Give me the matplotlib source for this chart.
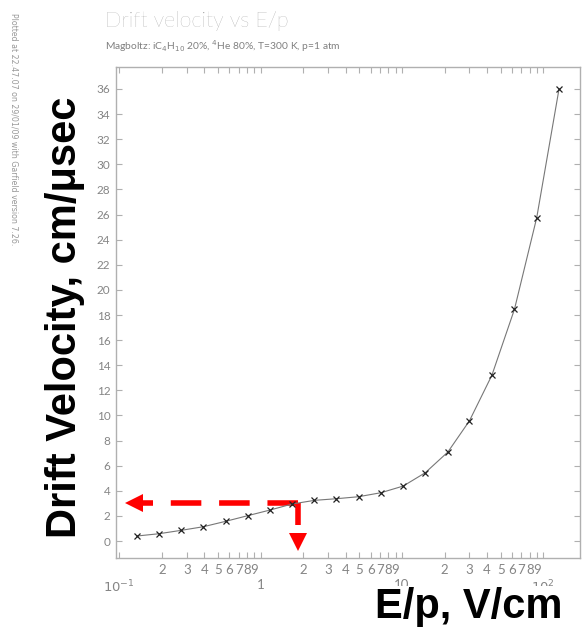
import numpy as np
import matplotlib
matplotlib.use("Agg")
import matplotlib.pyplot as plt
from matplotlib.ticker import FixedLocator, FixedFormatter

# drift velocity vs E/p (Magboltz, iC4H10/He)
ep = [0.133, 0.19, 0.273, 0.393, 0.565, 0.81, 1.165, 1.67, 2.40, 3.43,
      4.93, 7.10, 10.2, 14.6, 21.1, 30.0, 43.2, 62.4, 89.7, 129.0]
vdrift = [0.40, 0.58, 0.85, 1.14, 1.57, 2.02, 2.47, 2.95, 3.24, 3.37,
          3.53, 3.85, 4.38, 5.44, 7.09, 9.58, 13.2, 18.45, 25.75, 36.0]

# red guide arrows
arrow_ep = 1.85
arrow_v = 3.0

yticks = list(range(0, 37, 2))
major_x = [0.1, 1, 10, 100]
major_lbl = [r'$10^{-1}$', '1', '10', r'$10^{2}$']
minor_x = [m * d for d in (0.1, 1, 10) for m in range(2, 10)]
minor_lbl = [str(m) for d in (0.1, 1, 10) for m in range(2, 10)]

grey = '#858585'
frame = '#b0b0b0'

fig = plt.figure(figsize=(5.82, 6.32), dpi=100)
ax = fig.add_axes([0.1993, 0.1171, 0.7973, 0.7769])

ax.plot(ep, vdrift, color='#777777', lw=0.8, marker='x', ms=4,
        mec='#222222', mew=0.9, zorder=3)

# guide arrows
ax.plot([arrow_ep, 0.14], [arrow_v, arrow_v], color='red', lw=4,
        dashes=(5.5, 3.2), solid_capstyle='butt', dash_capstyle='butt')
ax.plot([0.128], [arrow_v], marker='<', color='red', ms=13, mew=0)
ax.plot([arrow_ep, arrow_ep], [arrow_v, 1.3], color='red', lw=4,
        solid_capstyle='butt')
ax.plot([arrow_ep], [-0.1], marker='v', color='red', ms=13, mew=0)

ax.set_xscale('log')
ax.set_xlim(0.0947, 181.6)
ax.set_ylim(-1.35, 37.75)

ax.set_yticks(yticks)
ax.set_yticklabels([str(t) for t in yticks])
ax.xaxis.set_major_locator(FixedLocator(major_x))
ax.xaxis.set_major_formatter(FixedFormatter(major_lbl))
ax.xaxis.set_minor_locator(FixedLocator(minor_x + [200]))
ax.xaxis.set_minor_formatter(FixedFormatter(minor_lbl + ['']))

for s in ax.spines.values():
    s.set_color(frame)
    s.set_linewidth(1.0)

ax.tick_params(axis='both', which='both', direction='in', color=frame,
               labelcolor=grey, top=True, right=True, width=0.8)
ax.tick_params(axis='y', length=4, labelsize=8.5, pad=4)
ax.tick_params(axis='x', which='major', length=4, labelsize=9.5, pad=15)
ax.tick_params(axis='x', which='minor', length=4, labelsize=9.5, pad=4)
for lab in ax.get_xticklabels(which='both') + ax.get_yticklabels():
    lab.set_family('Lato')

fig.text(0.180, 0.957, 'Drift velocity vs E/p', fontsize=15.5, color='#8f8f8f',
         family='Lato', fontweight='light', va='baseline')
fig.text(0.180, 0.921, r'Magboltz: iC$_4$H$_{10}$ 20%, $^4$He 80%, T=300 K, p=1 atm',
         fontsize=7.4, color='#808080', family='Lato', va='baseline')
fig.text(0.024, 0.98, 'Plotted at 22.47.07 on 29/01/09 with Garfield version 7.26.',
         fontsize=5.7, color='#999999', rotation=-90, va='top', ha='center')

fig.text(0.112, 0.498, 'Drift Velocity, cm/\u03bcsec', fontsize=30,
         fontweight='bold', family='Liberation Sans', rotation=90,
         ha='center', va='center')
fig.text(0.967, 0.008, 'E/p, V/cm', fontsize=30, fontweight='bold',
         family='Liberation Sans', ha='right', va='bottom', zorder=5,
         bbox=dict(facecolor='white', edgecolor='none', pad=0.5))

fig.savefig('out.png', dpi=100)
